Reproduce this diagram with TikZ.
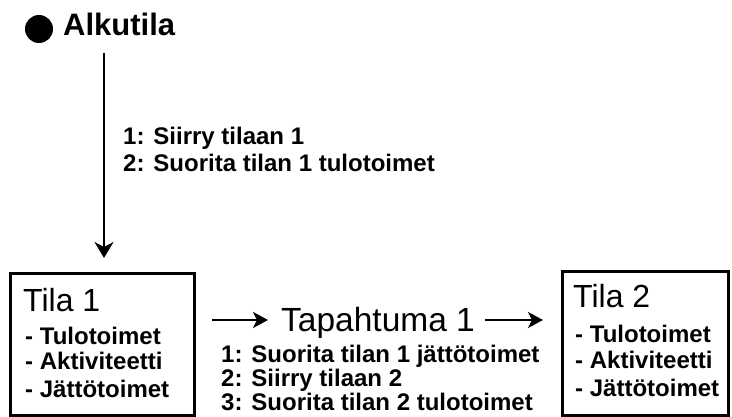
\documentclass[tikz,border=0pt]{standalone}
\usepackage{fontspec}
\setmainfont{Liberation Sans}
\usetikzlibrary{arrows.meta}
\begin{document}
\begin{tikzpicture}[x=1pt,y=1pt,
  title/.style={inner sep=0pt, anchor=base west, font=\fontsize{32}{32}\selectfont},
  item/.style={inner sep=0pt, anchor=base west, font=\bfseries\fontsize{24}{24}\selectfont},
  statebox/.style={draw, line width=2.8pt, inner sep=0pt, anchor=north west},
  varr/.style={line width=2.2pt, -{Stealth[length=16pt,width=19pt,inset=5pt]}},
  harr/.style={line width=2.6pt, -{Stealth[length=15pt,width=16pt,inset=4pt]}}]
\useasboundingbox (0,0) rectangle (732,416);
% start state
\node[circle, fill, minimum size=28pt, inner sep=0pt] (start) at (39,387) {};
\node[inner sep=0pt, anchor=base west, font=\bfseries\fontsize{31}{31}\selectfont] (alk) at (63,380) {Alkutila};
\coordinate (v1) at (104,363);
\coordinate (v2) at (104,158);
\draw[varr] (v1) -- (v2);
\node[item] (l1) at (123,271) {1: Siirry tilaan 1};
\node[item] (l2) at (123,244.5) {2: Suorita tilan 1 tulotoimet};
% state 1
\node[statebox, minimum width=184pt, minimum height=142pt] (box1) at (9,144) {};
\node[title] (t1) at (23,105) {Tila 1};
\node[item] (t1a) at (25,72) {- Tulotoimet};
\node[item] (t1b) at (25,47) {- Aktiviteetti};
\node[item] (t1c) at (25,19) {- Jättötoimet};
% state 2
\node[statebox, minimum width=166pt, minimum height=144pt] (box2) at (561,146) {};
\node[title] (t2) at (573,109) {Tila 2};
\node[item] (t2a) at (575,74) {- Tulotoimet};
\node[item] (t2b) at (575,48) {- Aktiviteetti};
\node[item] (t2c) at (575,20) {- Jättötoimet};
% event
\node[title, font=\fontsize{33.5}{33.5}\selectfont] (ev) at (281,85) {Tapahtuma 1};
\coordinate (h1) at (212,96);
\coordinate (h2) at (268,96);
\coordinate (h3) at (485,96);
\coordinate (h4) at (543,96);
\draw[harr] (h1) -- (h2);
\draw[harr] (h3) -- (h4);
\node[item] (e1) at (221,54) {1: Suorita tilan 1 jättötoimet};
\node[item] (e2) at (221,30) {2: Siirry tilaan 2};
\node[item] (e3) at (221,6) {3: Suorita tilan 2 tulotoimet};
\end{tikzpicture}
\end{document}
